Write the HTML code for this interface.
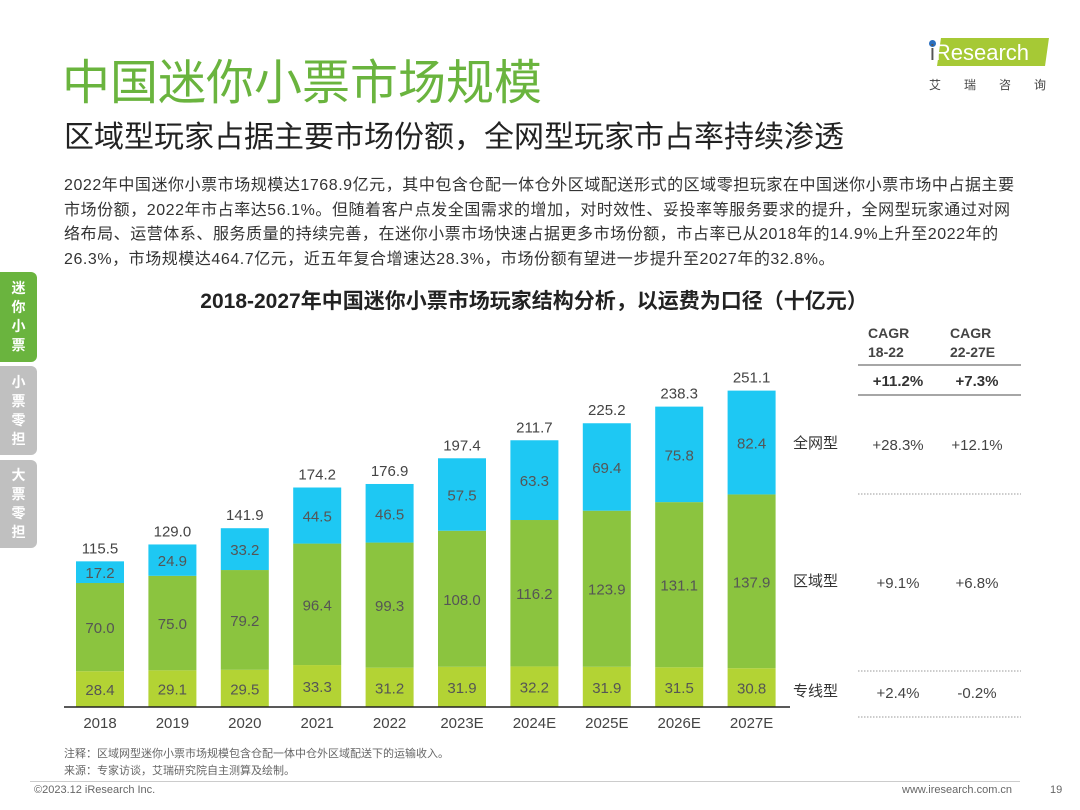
<!DOCTYPE html>
<html><head><meta charset="utf-8">
<style>
body{margin:0;width:1080px;height:810px;background:#fff;position:relative;overflow:hidden;font-family:"Liberation Sans","Noto Sans CJK SC",sans-serif;color:#333}
.abs{position:absolute}
.tab{position:absolute;left:0;width:37px;border-radius:0 6px 6px 0;color:#fff;font-weight:bold;font-size:14px;line-height:19px;text-align:center;display:flex;flex-direction:column;justify-content:center}
</style></head><body>
<div class="abs" style="left:62px;top:43px;font-size:48px;color:#6ab43e;white-space:nowrap">中国迷你小票市场规模</div>
<div class="abs" style="left:64px;top:112px;font-size:30px;color:#222;white-space:nowrap">区域型玩家占据主要市场份额，全网型玩家市占率持续渗透</div>
<div class="abs" style="left:925px;top:38px;width:130px;height:58px">
 <div style="position:absolute;left:14px;top:0;width:108px;height:28px;background:#a6c935;transform:skewX(-8deg)"></div>
 <div style="position:absolute;left:4px;top:2px;width:7px;height:7px;border-radius:50%;background:#2a6fc0"></div>
 <div style="position:absolute;left:5px;top:2px;font-size:22px;color:#fff"><span style="color:#555">i</span>Research</div>
 <div style="position:absolute;left:4px;top:38px;font-size:12px;color:#444;letter-spacing:23px;white-space:nowrap">艾瑞咨询</div>
</div>
<div class="abs" style="left:64px;top:174px;font-size:16px;letter-spacing:0.55px;line-height:24.5px;color:#333;white-space:nowrap">2022年中国迷你小票市场规模达1768.9亿元，其中包含仓配一体仓外区域配送形式的区域零担玩家在中国迷你小票市场中占据主要<br>市场份额，2022年市占率达56.1%。但随着客户点发全国需求的增加，对时效性、妥投率等服务要求的提升，全网型玩家通过对网<br>络布局、运营体系、服务质量的持续完善，在迷你小票市场快速占据更多市场份额，市占率已从2018年的14.9%上升至2022年的<br>26.3%，市场规模达464.7亿元，近五年复合增速达28.3%，市场份额有望进一步提升至2027年的32.8%。</div>
<div class="tab" style="top:272px;height:90px;background:#6ab43e">迷<br>你<br>小<br>票</div>
<div class="tab" style="top:366px;height:89px;background:#c0c0c0">小<br>票<br>零<br>担</div>
<div class="tab" style="top:460px;height:88px;background:#c0c0c0">大<br>票<br>零<br>担</div>
<div class="abs" style="left:0;width:1068px;top:285px;text-align:center;font-size:21px;font-weight:bold;color:#222">2018-2027年中国迷你小票市场玩家结构分析，以运费为口径（十亿元）</div>
<svg class="abs" style="left:0;top:0" width="1080" height="810" id="chart"></svg>
<div class="abs" style="left:64px;top:746px;font-size:11px;color:#666;line-height:17px">注释：区域网型迷你小票市场规模包含仓配一体中仓外区域配送下的运输收入。<br>来源：专家访谈，艾瑞研究院自主测算及绘制。</div>
<div class="abs" style="left:30px;top:781px;width:990px;height:1px;background:#ccc"></div>
<div class="abs" style="left:34px;top:784px;font-size:11px;color:#666">©2023.12 iResearch Inc.</div>
<div class="abs" style="left:902px;top:784px;font-size:11px;color:#666">www.iresearch.com.cn</div>
<div class="abs" style="left:1050px;top:784px;font-size:11px;color:#666">19</div>
<script>
const categories=["2018","2019","2020","2021","2022","2023E","2024E","2025E","2026E","2027E"];
const dedicated=[28.4,29.1,29.5,33.3,31.2,31.9,32.2,31.9,31.5,30.8];
const regional=[70.0,75.0,79.2,96.4,99.3,108.0,116.2,123.9,131.1,137.9];
const nationwide=[17.2,24.9,33.2,44.5,46.5,57.5,63.3,69.4,75.8,82.4];
const totals=["115.5","129.0","141.9","174.2","176.9","197.4","211.7","225.2","238.3","251.1"];
const rowLabels=["全网型","区域型","专线型"];
const cagr1822=["+28.3%","+9.1%","+2.4%"];
const cagr2227=["+12.1%","+6.8%","-0.2%"];
const totalCagr=["+11.2%","+7.3%"];
const NS="http://www.w3.org/2000/svg",svg=document.getElementById('chart');
const base=707,k=1.26,x0=100,step=72.4,bw=48;
const y=v=>base-v*k, xc=i=>x0+i*step;
function mk(t,a,txt){const e=document.createElementNS(NS,t);for(const p in a)e.setAttribute(p,a[p]);if(txt!=null)e.textContent=txt;svg.appendChild(e);return e;}
const series=[[dedicated,"#b3d334","dedicated"],[regional,"#8bc43f","regional"],[nationwide,"#1ec8f3","nationwide"]];
categories.forEach((c,i)=>{
 let acc=0;
 series.forEach(([arr,col,nm])=>{
  const v=arr[i];
  const r=mk('rect',{x:xc(i)-bw/2,y:y(acc+v),width:bw,height:v*k,fill:col});
  
  
  const t=mk('text',{x:xc(i),y:y(acc+v/2)+6,'text-anchor':'middle','font-size':15,fill:'#555'},v.toFixed(1));
  
  
  acc+=v;
 });
 const t=mk('text',{x:xc(i),y:y(acc)-8,'text-anchor':'middle','font-size':15,fill:'#444'},totals[i]);
 
 
 const l=mk('text',{x:xc(i),y:base+21,'text-anchor':'middle','font-size':15,fill:'#444'},c);
 
 
});
const ax=mk('line',{x1:64,x2:790,y1:base,y2:base,stroke:'#222','stroke-width':1.5});


const c1=898,c2=977;
[["CAGR",c1-30,338],["18-22",c1-30,357],["CAGR",c2-27,338],["22-27E",c2-27,357]].forEach(([s,xx,yy])=>{
 const t=mk('text',{x:xx,y:yy,'font-size':14,'font-weight':'bold',fill:'#444'},s);
 
 
});
[365,395].forEach(yy=>{const l=mk('line',{x1:858,x2:1021,y1:yy,y2:yy,stroke:'#888','stroke-width':1.5});});
[494,671,717].forEach(yy=>{const l=mk('line',{x1:858,x2:1021,y1:yy,y2:yy,stroke:'#999','stroke-width':1,'stroke-dasharray':'1.5,1.5'});});
totalCagr.forEach((s,j)=>{const t=mk('text',{x:j?c2:c1,y:386,'text-anchor':'middle','font-size':15,'font-weight':'bold',fill:'#333'},s);});
const rowY=[450,588,698];
rowLabels.forEach((s,j)=>{
 const t=mk('text',{x:793,y:rowY[j]-2,'font-size':15,fill:'#333'},s);
 
 
 const a=mk('text',{x:c1,y:rowY[j],'text-anchor':'middle','font-size':15,fill:'#444'},cagr1822[j]);
 
 
 const b=mk('text',{x:c2,y:rowY[j],'text-anchor':'middle','font-size':15,fill:'#444'},cagr2227[j]);
 
 
});
</script>
</body></html>
